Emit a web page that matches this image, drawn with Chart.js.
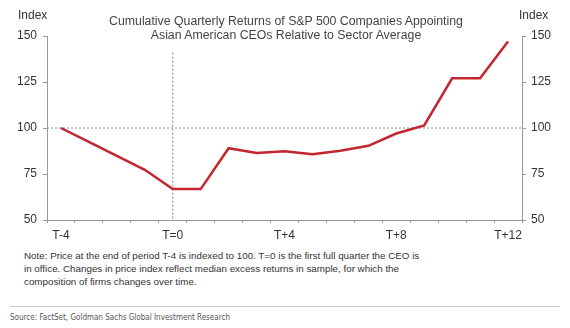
<!DOCTYPE html>
<html>
<head>
  <meta charset="UTF-8">
  <title>Cumulative Quarterly Returns</title>
  <script src="https://cdn.jsdelivr.net/npm/chart.js"></script>
  <style>
    body { margin: 0; background: #fff; font-family: "Liberation Sans", Arial, sans-serif; color: #333; }
    #wrap { position: relative; width: 570px; height: 328px; overflow: hidden; }
    #chartBox { position: absolute; left: 0; top: 0; width: 570px; height: 246px; }
    .title { position: absolute; left: 0; width: 572px; top: 14px; text-align: center; font-size: 12.3px; line-height: 14px; color: #444; }
    .idx { position: absolute; top: 8px; font-size: 12px; color: #333; }
    .note { position: absolute; left: 24px; top: 249px; font-size: 9.8px; line-height: 13px; color: #333; }
    .rule { position: absolute; left: 10px; width: 550px; top: 306px; border-top: 1px solid #c8c8c8; }
    .source { position: absolute; left: 10px; top: 313px; font-family: "Liberation Sans Narrow", "DejaVu Sans Condensed", sans-serif; font-size: 8px; color: #555; }
  </style>
</head>
<body>
  <div id="wrap">
    <div id="chartBox"><canvas id="chart"></canvas></div>
    <div class="title">Cumulative Quarterly Returns of S&amp;P 500 Companies Appointing<br>Asian American CEOs Relative to Sector Average</div>
    <div class="idx" style="left:18px">Index</div>
    <div class="idx" style="left:519px">Index</div>
    <div class="note">Note: Price at the end of period T-4 is indexed to 100. T=0 is the first full quarter the CEO is<br>in office. Changes in price index reflect median excess returns in sample, for which the<br>composition of firms changes over time.</div>
    <div class="rule"></div>
    <div class="source">Source: FactSet, Goldman Sachs Global Investment Research</div>
  </div>
  <script>
    const quarters = ["T-4", "T-3", "T-2", "T-1", "T=0", "T+1", "T+2", "T+3", "T+4",
                      "T+5", "T+6", "T+7", "T+8", "T+9", "T+10", "T+11", "T+12"];
    const shownLabels = ["T-4", "T=0", "T+4", "T+8", "T+12"];
    const indexValues = [100, 92.4, 84.8, 77.3, 66.8, 66.8, 89, 86.4, 87.3,
                         85.8, 87.6, 90.3, 97, 101.4, 127, 127, 147];
    const yTicks = [50, 75, 100, 125, 150];
    const baseline = 100;
    const eventQuarter = "T=0";

    const refLines = {
      id: "refLines",
      beforeDatasetsDraw(chart) {
        const { ctx, chartArea, scales } = chart;
        const y = scales.y.getPixelForValue(baseline);
        const x = scales.x.getPixelForValue(quarters.indexOf(eventQuarter));
        ctx.save();
        ctx.strokeStyle = "#8a8a8a";
        ctx.lineWidth = 1;
        ctx.setLineDash([2, 2]);
        ctx.beginPath();
        ctx.moveTo(chartArea.left, y);
        ctx.lineTo(chartArea.right, y);
        ctx.moveTo(x, scales.y.getPixelForValue(141));
        ctx.lineTo(x, chartArea.bottom);
        ctx.stroke();
        ctx.restore();
      }
    };

    const tickFont = { family: "Liberation Sans", size: 12 };

    new Chart(document.getElementById("chart").getContext("2d"), {
      type: "line",
      data: {
        labels: quarters,
        datasets: [{
          data: indexValues,
          borderColor: "#c3262e",
          borderWidth: 2.5,
          pointRadius: 0,
          tension: 0,
          yAxisID: "y"
        }]
      },
      options: {
        responsive: true,
        maintainAspectRatio: false,
        animation: false,
        layout: { padding: { top: 36, left: 0, right: 0, bottom: 0 } },
        plugins: { legend: { display: false }, tooltip: { enabled: false } },
        scales: {
          x: {
            type: "category",
            offset: true,
            grid: { display: true, offset: true, drawOnChartArea: false, drawTicks: true, tickLength: 3, color: "#999" },
            border: { color: "#999" },
            ticks: {
              autoSkip: false, maxRotation: 0, color: "#333", font: tickFont, padding: 5,
              callback: (v, i) => shownLabels.includes(quarters[i]) ? quarters[i] : ""
            },
            afterFit: s => { s.height = 26; }
          },
          y: {
            position: "left", min: 50, max: 150,
            afterBuildTicks: s => { s.ticks = yTicks.map(v => ({ value: v })); },
            grid: { drawOnChartArea: false, tickLength: 4, color: "#999" },
            border: { color: "#999" },
            ticks: { color: "#333", font: tickFont, padding: 6 },
            afterFit: s => { s.width = 47; }
          },
          y2: {
            position: "right", min: 50, max: 150,
            afterBuildTicks: s => { s.ticks = yTicks.map(v => ({ value: v })); },
            grid: { drawOnChartArea: false, tickLength: 4, color: "#999" },
            border: { color: "#999" },
            ticks: { color: "#333", font: tickFont, padding: 5 },
            afterFit: s => { s.width = 48; }
          }
        }
      },
      plugins: [refLines]
    });
  </script>
</body>
</html>
